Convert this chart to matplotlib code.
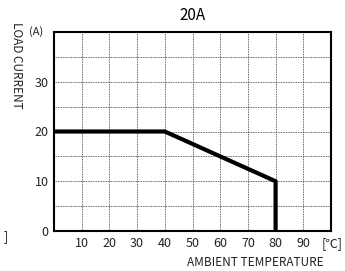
import matplotlib.pyplot as plt

plt.rcParams['font.family'] = ['Noto Sans CJK KR', 'DejaVu Sans']

# derating curve
temp = [0, 40, 80, 80]
current = [20, 20, 10, 0]

x_ticks = [10, 20, 30, 40, 50, 60, 70, 80, 90]
y_ticks = [0, 10, 20, 30]

fig = plt.figure(figsize=(3.45, 2.71), dpi=100)
ax = fig.add_axes([54/345, 1-231/271, (331-54)/345, (231-32)/271])

ax.set_xlim(0, 100)
ax.set_ylim(0, 40)

# dotted grid
for x in x_ticks:
    ax.axvline(x, color='#333333', lw=0.6, ls=(0, (1, 1)), zorder=1)
for y in range(5, 40, 5):
    ax.axhline(y, color='#333333', lw=0.6, ls=(0, (1, 1)), zorder=1)

ax.plot(temp, current, color='black', lw=3, solid_capstyle='butt', zorder=3)

for s in ax.spines.values():
    s.set_linewidth(1.5)

ax.set_xticks(x_ticks)
ax.set_xticklabels([str(v) for v in x_ticks], fontsize=9, color='#222222')
ax.set_yticks(y_ticks)
ax.set_yticklabels([str(v) for v in y_ticks], fontsize=9, color='#222222')
ax.tick_params(length=0, pad=4)

ax.annotate('[℃]', xy=(100, 0), xytext=(1, -4), textcoords='offset points',
            ha='center', va='top', fontsize=9, color='#222222')
ax.text(-6.5, 40, '(A)', ha='center', va='center', fontsize=8, color='#222222')
ax.text(-17.5, -1.2, ']', ha='center', va='center', fontsize=9, color='#222222')

ax.set_title('20A', fontsize=11, pad=9)
fig.text(255/345, 1-262/271, 'AMBIENT TEMPERATURE', ha='center', va='center', fontsize=8.5, color='#222222')
fig.text(16/345, 1-65/271, 'LOAD CURRENT', ha='center', va='center', rotation=-90, fontsize=8.5, color='#222222')

fig.savefig('out.png', dpi=100)
